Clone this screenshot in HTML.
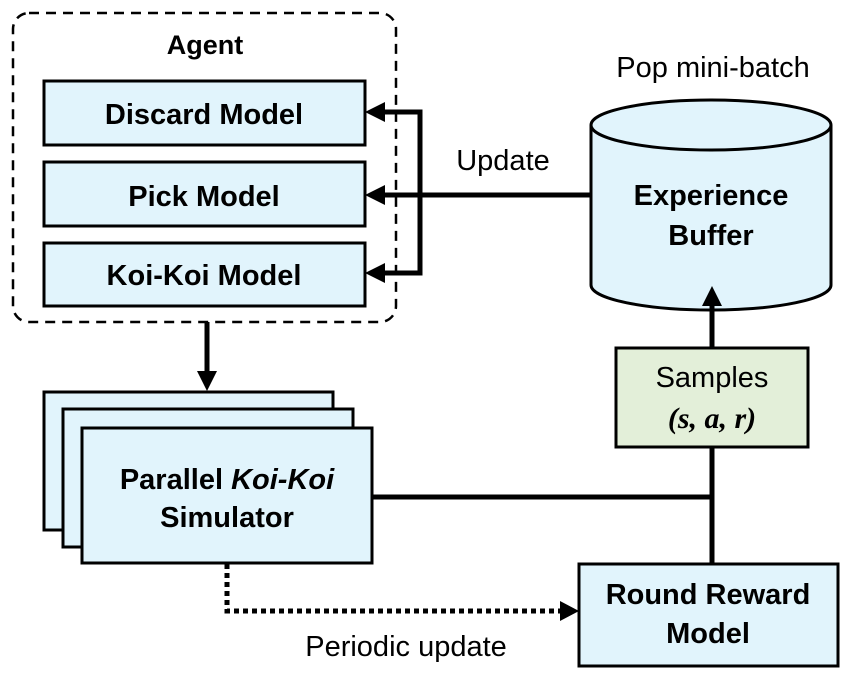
<!DOCTYPE html>
<html><head><style>body{margin:0;background:#fff}</style></head><body>
<svg width="850" height="679" viewBox="0 0 850 679" xmlns="http://www.w3.org/2000/svg" font-family="Liberation Sans, sans-serif">
<rect x="13" y="13" width="383" height="309" rx="16" fill="none" stroke="#000" stroke-width="2.5" stroke-dasharray="10,7"/>
<text x="205" y="54" font-size="27" font-weight="bold" text-anchor="middle">Agent</text>
<g fill="#e1f4fc" stroke="#000" stroke-width="3">
<rect x="44" y="81" width="321" height="64"/>
<rect x="44" y="162" width="321" height="64"/>
<rect x="44" y="243" width="321" height="63"/>
</g>
<g font-size="29" font-weight="bold" text-anchor="middle">
<text x="204" y="124">Discard Model</text>
<text x="204" y="206">Pick Model</text>
<text x="204" y="285">Koi-Koi Model</text>
</g>
<text x="503" y="170" font-size="29" text-anchor="middle">Update</text>
<text x="713" y="77" font-size="29" text-anchor="middle">Pop mini-batch</text>
<path d="M591,125 L591,285 A120,25 0 0 0 831,285 L831,125" fill="#e1f4fc" stroke="#000" stroke-width="3"/>
<ellipse cx="711" cy="125" rx="120" ry="25" fill="#e1f4fc" stroke="#000" stroke-width="3"/>
<text x="711" y="205" font-size="29" font-weight="bold" text-anchor="middle">Experience</text>
<text x="711" y="245" font-size="29" font-weight="bold" text-anchor="middle">Buffer</text>
<g stroke="#000" stroke-width="5" fill="none">
<polyline points="380,112 420,112 420,273 380,273"/>
<line x1="592" y1="195" x2="380" y2="195"/>
<line x1="207" y1="322" x2="207" y2="376"/>
<line x1="712" y1="347" x2="712" y2="300"/>
<line x1="712" y1="447" x2="712" y2="563"/>
<line x1="372" y1="497" x2="712" y2="497"/>
</g>
<g fill="#000">
<path d="M365,112 L385,102 L385,122 z"/>
<path d="M365,195 L385,185 L385,205 z"/>
<path d="M365,273 L385,263 L385,283 z"/>
<path d="M207,391 L197,371 L217,371 z"/>
<path d="M712,286 L702,306 L722,306 z"/>
</g>
<rect x="616" y="348" width="192" height="99" fill="#e3efd9" stroke="#000" stroke-width="3"/>
<text x="712" y="387" font-size="29" text-anchor="middle">Samples</text>
<text x="712" y="428" font-size="30" font-family="Liberation Serif, serif" font-weight="bold" font-style="italic" text-anchor="middle">(s, a, r)</text>
<g fill="#e1f4fc" stroke="#000" stroke-width="3">
<rect x="44" y="392" width="289" height="138"/>
<rect x="63" y="409" width="290" height="138"/>
<rect x="82" y="428" width="290" height="135"/>
</g>
<text x="227" y="489" font-size="29" font-weight="bold" text-anchor="middle">Parallel <tspan font-style="italic">Koi-Koi</tspan></text>
<text x="227" y="527" font-size="29" font-weight="bold" text-anchor="middle">Simulator</text>
<rect x="579" y="564" width="259" height="102" fill="#e1f4fc" stroke="#000" stroke-width="3"/>
<text x="708" y="604" font-size="29" font-weight="bold" text-anchor="middle">Round Reward</text>
<text x="708" y="643" font-size="29" font-weight="bold" text-anchor="middle">Model</text>
<polyline points="227,564 227,611 562,611" fill="none" stroke="#000" stroke-width="5" stroke-dasharray="5,4"/>
<path d="M560,601 L579,611 L560,621 z" fill="#000"/>
<text x="406" y="656" font-size="29" text-anchor="middle">Periodic update</text>
</svg>
</body></html>
